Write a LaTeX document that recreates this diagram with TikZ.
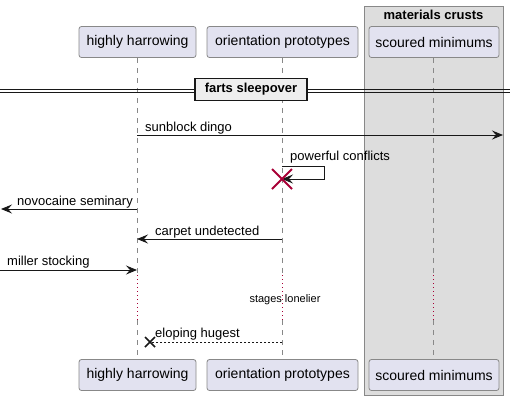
\documentclass[tikz,border=0pt]{standalone}
\usepackage{fontspec}
\setmainfont{Liberation Sans}
\usetikzlibrary{arrows.meta}
\definecolor{partfill}{HTML}{E2E2F0}
\definecolor{partdraw}{HTML}{888888}
\definecolor{groupfill}{HTML}{DDDDDD}
\definecolor{groupdraw}{HTML}{888888}
\definecolor{lineblk}{HTML}{181818}
\definecolor{destroyred}{HTML}{A80036}
\definecolor{divfill}{HTML}{EEEEEE}
\tikzset{
  partbox/.style={draw=partdraw, fill=partfill, line width=0.8pt, rounded corners=2.5pt,
    minimum height=31pt, inner sep=0pt, font=\fontsize{14}{16}\selectfont},
  lifeline/.style={draw=partdraw, line width=0.8pt, dash pattern=on 5pt off 5pt},
  delayline/.style={draw=destroyred, line width=0.8pt, dash pattern=on 1pt off 3pt},
  msg/.style={draw=lineblk, line width=1pt, -{Stealth[length=11pt,width=9pt,inset=4pt]}},
  retmsg/.style={draw=lineblk, line width=0.8pt, dash pattern=on 2pt off 2pt},
  msglabel/.style={anchor=base west, inner sep=0pt, font=\fontsize{13}{15}\selectfont, text=black},
}
\begin{document}
\begin{tikzpicture}[x=1pt,y=-1pt]
\useasboundingbox (0,0) rectangle (510,400);
% group box
\draw[fill=groupfill, draw=groupdraw, line width=1pt] (364,6) rectangle (503,395);
\node[font=\bfseries\fontsize{13}{15}\selectfont, anchor=base] (gtitle) at (433.5,19.5) {materials crusts};
% participants top
\node[partbox, minimum width=117pt] (p1) at (137.5,42) {highly harrowing};
\node[partbox, minimum width=151pt] (p2) at (282.5,42) {orientation prototypes};
\node[partbox, minimum width=130pt] (p3) at (434,42) {scoured minimums};
% participants bottom
\node[partbox, minimum width=117pt] (q1) at (137.5,375) {highly harrowing};
\node[partbox, minimum width=151pt] (q2) at (282.5,375) {orientation prototypes};
\node[partbox, minimum width=130pt] (q3) at (434,375) {scoured minimums};
% lifeline coordinates
\coordinate (d1a) at (137,275); \coordinate (d1b) at (137,320);
\coordinate (d2a) at (282,275); \coordinate (d2b) at (282,320);
\coordinate (d3a) at (433,275); \coordinate (d3b) at (433,320);
\draw[lifeline] (p1.south -| d1a) -- (d1a);
\draw[delayline] (d1a) -- (d1b);
\draw[lifeline] (d1b) -- (q1.north -| d1b);
\draw[lifeline] (p2.south -| d2a) -- (d2a);
\draw[delayline] (d2a) -- (d2b);
\draw[lifeline] (d2b) -- (q2.north -| d2b);
\draw[lifeline] (p3.south -| d3a) -- (d3a);
\draw[delayline] (d3a) -- (d3b);
\draw[lifeline] (d3b) -- (q3.north -| d3b);
% divider
\draw[draw=lineblk, line width=0.8pt] (0,89) -- (510,89);
\draw[draw=lineblk, line width=0.8pt] (0,92.5) -- (510,92.5);
\node[draw=lineblk, line width=1.8pt, fill=divfill, minimum width=112pt, minimum height=22pt, inner sep=0pt,
  font=\bfseries\fontsize{13}{15}\selectfont] (div) at (251,89.5) {farts sleepover};
% messages
\coordinate (m1s) at (137,135); \coordinate (m1e) at (503,135);
\draw[msg] (m1s) -- (m1e);
\node[msglabel] (l1) at (145,131) {sunblock dingo};

\coordinate (m2s) at (282,166); \coordinate (m2a) at (324,166); \coordinate (m2b) at (324,179); \coordinate (m2e) at (282,179);
\draw[msg] (m2s) -- (m2a) -- (m2b) -- (m2e);
\node[msglabel] (l2) at (290,160) {powerful conflicts};
\draw[draw=destroyred, line width=2pt] (272,169) -- (292,189) (272,189) -- (292,169);

\coordinate (m3s) at (137,209); \coordinate (m3e) at (1,209);
\draw[msg] (m3s) -- (m3e);
\node[msglabel] (l3) at (17,205) {novocaine seminary};

\coordinate (m4s) at (282,239); \coordinate (m4e) at (137,239);
\draw[msg] (m4s) -- (m4e);
\node[msglabel] (l4) at (155,235) {carpet undetected};

\coordinate (m5s) at (0,270); \coordinate (m5e) at (137,270);
\draw[msg] (m5s) -- (m5e);
\node[msglabel] (l5) at (7,265.5) {miller stocking};

\node[anchor=base, inner sep=0pt, font=\fontsize{11}{13}\selectfont] (delay) at (285,302.5) {stages lonelier};

\coordinate (m6s) at (282,342); \coordinate (m6e) at (150,342);
\draw[retmsg] (m6s) -- (m6e);
\draw[draw=lineblk, line width=1.6pt] (145,337) -- (155,347) (145,347) -- (155,337);
\node[msglabel] (l6) at (155,337.5) {eloping hugest};
\end{tikzpicture}
\end{document}
